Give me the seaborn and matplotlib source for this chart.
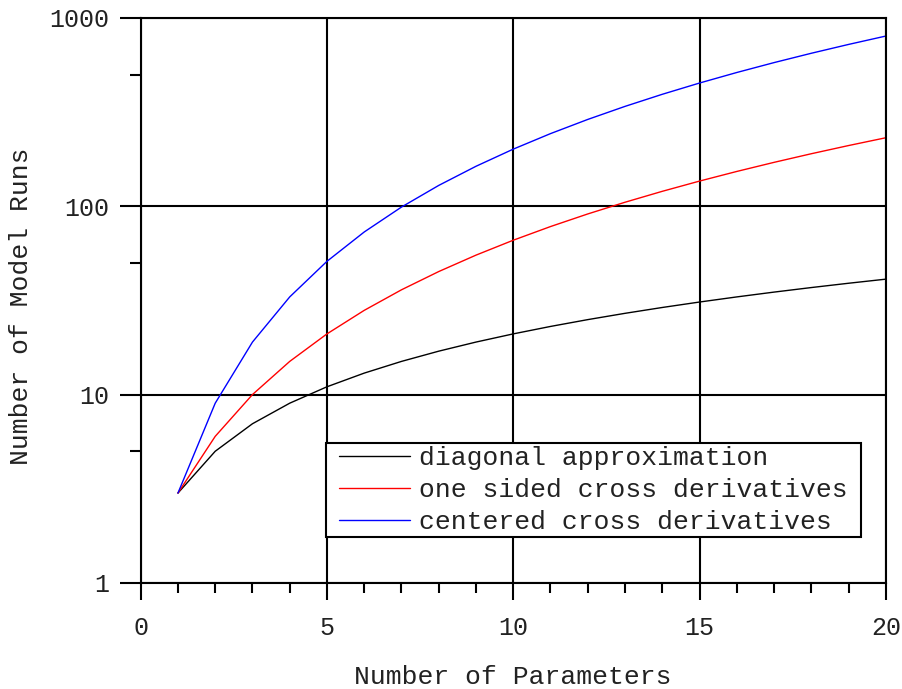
import pandas as pd
import matplotlib.pyplot as plt
from matplotlib.path import Path
from matplotlib.ticker import FixedLocator, NullFormatter
import seaborn as sns

# Data
n_params = list(range(1, 21))
diagonal = [3, 5, 7, 9, 11, 13, 15, 17, 19, 21, 23, 25, 27, 29, 31, 33, 35, 37, 39, 41]
one_sided = [3, 6, 10, 15, 21, 28, 36, 45, 55, 66, 78, 91, 105, 120, 136, 153, 171, 190, 210, 231]
centered = [3, 9, 19, 33, 51, 73, 99, 129, 163, 201, 243, 289, 339, 393, 451, 513, 579, 649, 723, 801]
series_names = ["diagonal approximation", "one sided cross derivatives", "centered cross derivatives"]

df = pd.DataFrame({
    "n": n_params * 3,
    "runs": diagonal + one_sided + centered,
    "method": [series_names[0]] * 20 + [series_names[1]] * 20 + [series_names[2]] * 20,
})

sns.set_style("white")
plt.rcParams['font.family'] = ['Liberation Mono', 'DejaVu Sans Mono']

fig = plt.figure(figsize=(9.02, 6.89), dpi=100)
ax = fig.add_axes([0.156, 0.154, 0.826, 0.820])

sns.lineplot(data=df, x="n", y="runs", hue="method",
             palette=["#000000", "#ff0000", "#0000ff"], linewidth=1.0, ax=ax)

ax.set_yscale("log")
ax.set_xlim(0, 20)
ax.set_ylim(1, 1000)
ax.set_xticks([0, 5, 10, 15, 20])
ax.set_yticks([1, 10, 100, 1000])
ax.set_yticklabels(["1", "10", "100", "1000"])
ax.xaxis.set_minor_locator(FixedLocator([i for i in range(21) if i % 5]))
ax.yaxis.set_minor_locator(FixedLocator([5, 50, 500]))
ax.yaxis.set_minor_formatter(NullFormatter())

ax.grid(True, which="major", color="black", linewidth=1.5)
for s in ax.spines.values():
    s.set_color("black")
    s.set_linewidth(1.5)
ax.tick_params(which="both", direction="out", width=1.5, colors="black", labelsize=18,
               labelcolor="#222222", left=True, bottom=True)
ax.tick_params(axis="x", which="major", length=12.5, pad=11)
ax.tick_params(axis="x", which="minor", length=7)
ax.tick_params(axis="y", which="major", length=15, pad=8)
ax.tick_params(axis="y", which="minor", length=8)

ax.set_xlabel("Number of Parameters", fontsize=19, color="#222222")
ax.set_ylabel("Number of Model Runs", fontsize=19, color="#222222")
ax.xaxis.set_label_coords(0.5, -0.166)
ax.xaxis.label.set_va("center")
ax.yaxis.set_label_coords(-0.161, 0.49)
ax.yaxis.label.set_va("center")


# legend frame: extra room left and right of the entries, tight top and bottom
def wide_box(x0, y0, width, height, mutation_size):
    dx = 0.4 * mutation_size
    x0, x1 = x0 - dx, x0 + width + dx
    return Path([(x0, y0), (x1, y0), (x1, y0 + height), (x0, y0 + height), (x0, y0)],
                closed=True)


handles, labels = ax.get_legend_handles_labels()
leg = ax.legend(handles, labels, loc="lower right", bbox_to_anchor=(0.953, 0.082),
                fontsize=19, frameon=True, fancybox=False, framealpha=1,
                edgecolor="black", handlelength=2.7, handletextpad=0.35,
                labelspacing=0.3, borderpad=0.1, borderaxespad=0)
leg.get_frame().set_linewidth(1.5)
leg.get_frame().set_boxstyle(wide_box)
for t in leg.get_texts():
    t.set_color("#222222")

fig.savefig("out.png", dpi=100)
